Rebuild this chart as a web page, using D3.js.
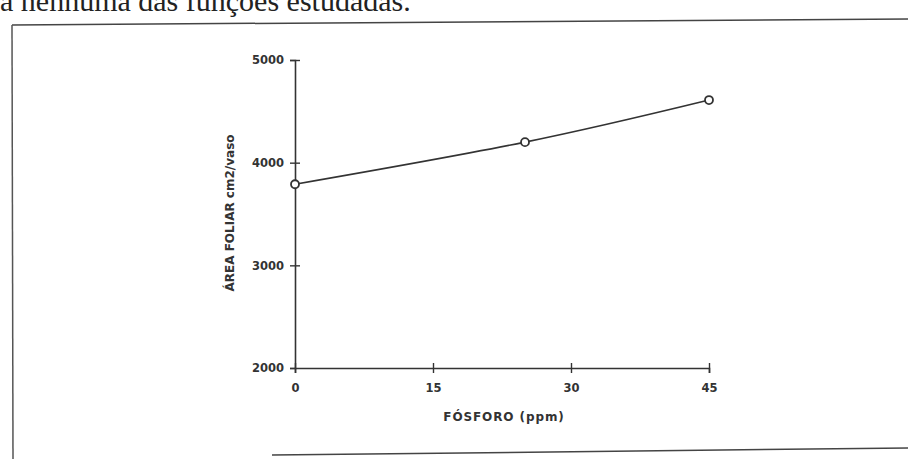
<!DOCTYPE html>
<html>
<head>
<meta charset="utf-8">
<script src="https://cdn.jsdelivr.net/npm/d3@7"></script>
<style>
  body { margin: 0; background: #fff; }
  svg { display: block; }
  .tick text { font-family: "DejaVu Sans", Verdana, sans-serif; font-weight: bold; font-size: 11.5px; fill: #333; }
</style>
</head>
<body>
<div id="chart"></div>
<script>
  // données
  const fosforo = [0, 25, 45];
  const areaFoliar = [3790, 4200, 4610];
  const xTicks = [0, 15, 30, 45];
  const yTicks = [2000, 3000, 4000, 5000];

  const width = 908;
  const height = 459;

  const svg = d3.select("#chart").append("svg")
    .attr("width", width)
    .attr("height", height);

  /* ---------- texte de la page et cadre ---------- */
  svg.append("text")
    .attr("x", 0)
    .attr("y", 11)
    .attr("font-family", "Liberation Serif, Times New Roman, serif")
    .attr("font-size", 30)
    .attr("fill", "#222")
    .text("a nenhuma das funções estudadas.");

  svg.append("line")
    .attr("x1", 12).attr("y1", 25).attr("x2", 908).attr("y2", 19)
    .attr("stroke", "#444").attr("stroke-width", 1.5);
  svg.append("line")
    .attr("x1", 12).attr("y1", 25).attr("x2", 13).attr("y2", 459)
    .attr("stroke", "#555").attr("stroke-width", 1.5);
  svg.append("line")
    .attr("x1", 272).attr("y1", 455).attr("x2", 908).attr("y2", 448)
    .attr("stroke", "#444").attr("stroke-width", 1.5);

  /* ---------- échelles ---------- */
  const x = d3.scaleLinear().domain([0, 45]).range([295, 709]);
  const y = d3.scaleLinear().domain([2000, 5000]).range([368, 60]);

  const xAxis = svg.append("g")
    .attr("transform", `translate(0,${y(2000)})`)
    .call(d3.axisBottom(x).tickValues(xTicks).tickFormat(d3.format("d")).tickSize(5).tickPadding(11));
  xAxis.selectAll(".tick line").attr("y1", -5).attr("y2", 5);

  const yAxis = svg.append("g")
    .attr("transform", `translate(${x(0)},0)`)
    .call(d3.axisLeft(y).tickValues(yTicks).tickFormat(d3.format("d")).tickSize(5).tickPadding(6));
  yAxis.selectAll(".tick line").attr("x1", -5).attr("x2", 5);
  yAxis.selectAll(".tick").filter(d => d === 2000).select("line").attr("x2", 0);

  svg.selectAll(".domain").attr("stroke", "#333").attr("stroke-width", 1.6);
  svg.selectAll(".tick line").attr("stroke", "#333").attr("stroke-width", 1.4);

  /* ---------- titres des axes ---------- */
  svg.append("text")
    .attr("x", 504)
    .attr("y", 421)
    .attr("text-anchor", "middle")
    .attr("font-family", "DejaVu Sans, Verdana, sans-serif")
    .attr("font-weight", "bold")
    .attr("font-size", 12)
    .attr("letter-spacing", 0.9)
    .attr("fill", "#333")
    .text("FÓSFORO (ppm)");

  svg.append("text")
    .attr("transform", "translate(234,213) rotate(-90)")
    .attr("text-anchor", "middle")
    .attr("font-family", "DejaVu Sans, Verdana, sans-serif")
    .attr("font-weight", "bold")
    .attr("font-size", 12)
    .attr("fill", "#333")
    .text("ÁREA FOLIAR cm2/vaso");

  /* ---------- courbe et points ---------- */
  const pts = fosforo.map((d, i) => [d, areaFoliar[i]]);

  const line = d3.line()
    .x(d => x(d[0]))
    .y(d => y(d[1]))
    .curve(d3.curveNatural);

  svg.append("path")
    .datum(pts)
    .attr("d", line)
    .attr("fill", "none")
    .attr("stroke", "#333")
    .attr("stroke-width", 1.6);

  svg.selectAll(".pt")
    .data(pts)
    .enter()
    .append("circle")
    .attr("class", "pt")
    .attr("cx", d => x(d[0]))
    .attr("cy", d => y(d[1]))
    .attr("r", 4)
    .attr("fill", "#fff")
    .attr("stroke", "#333")
    .attr("stroke-width", 1.8);
</script>
</body>
</html>
